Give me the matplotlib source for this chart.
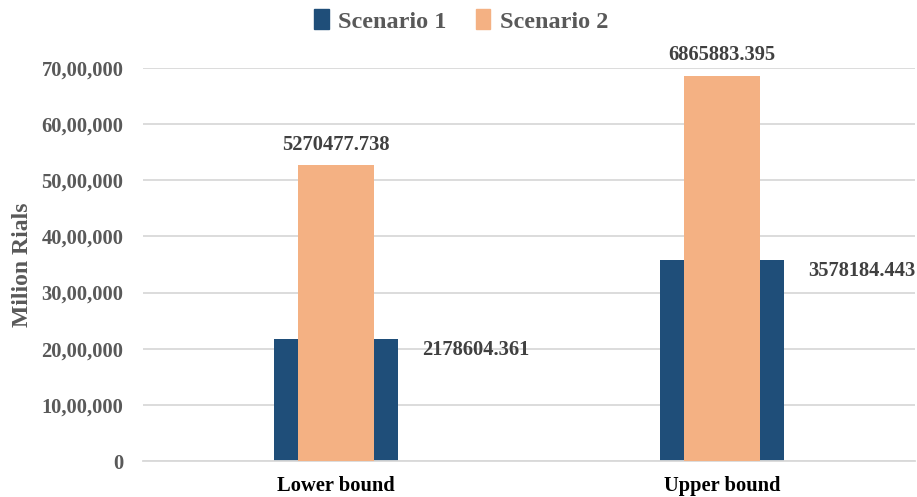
import matplotlib.pyplot as plt
from matplotlib.ticker import FuncFormatter
from matplotlib.patches import Patch

plt.rcParams['font.family'] = ['Liberation Serif', 'DejaVu Serif']
plt.rcParams['font.weight'] = 'bold'

# data
categories = ['Lower bound', 'Upper bound']
scenario_1 = [2178604.361, 3578184.443]
scenario_2 = [5270477.738, 6865883.395]
series_names = ['Scenario 1', 'Scenario 2']

blue = '#1F4E79'
orange = '#F4B183'
grey_text = '#595959'


def indian_format(v, pos):
    # 7000000 -> 70,00,000
    n = int(round(v))
    s = str(n)
    if len(s) <= 3:
        return s
    last3 = s[-3:]
    rest = s[:-3]
    parts = []
    while len(rest) > 2:
        parts.insert(0, rest[-2:])
        rest = rest[:-2]
    if rest:
        parts.insert(0, rest)
    return ','.join(parts) + ',' + last3


fig = plt.figure(figsize=(9.17, 4.97), dpi=100)
ax = fig.add_axes([0.156, 0.0724, 0.842, 0.7908])

x = list(range(len(categories)))
ax.bar(x, scenario_1, width=0.321, color=blue, zorder=2)
ax.bar(x, scenario_2, width=0.197, color=orange, zorder=3)

for i in x:
    ax.annotate(f'{scenario_1[i]:.3f}', xy=(i + 0.362, scenario_1[i]), xytext=(0, -8),
                textcoords='offset points', ha='center', va='center',
                fontsize=14.8, color='#404040', fontweight='bold')
    ax.annotate(f'{scenario_2[i]:.3f}', xy=(i, scenario_2[i]), xytext=(0, 14.5),
                textcoords='offset points', ha='center', va='center',
                fontsize=14.8, color='#404040', fontweight='bold')

ax.set_xlim(-0.5, 1.5)
ax.set_ylim(0, 7000000)
ax.set_yticks(range(0, 7000001, 1000000))
ax.yaxis.set_major_formatter(FuncFormatter(indian_format))
ax.set_xticks(x)
ax.set_xticklabels(categories, fontsize=14.8, fontweight='bold', color='black')
ax.tick_params(axis='y', length=0, pad=14, labelsize=14.8, labelcolor=grey_text)
ax.tick_params(axis='x', length=0, pad=11)

ax.grid(axis='y', color='#D9D9D9', linewidth=1.3, zorder=0)
ax.set_axisbelow(True)
for side in ['top', 'right', 'left']:
    ax.spines[side].set_visible(False)
ax.spines['bottom'].set_color('#D9D9D9')
ax.spines['bottom'].set_linewidth(1.3)

ax.set_ylabel('Milion Rials', fontsize=17, fontweight='bold', color=grey_text)
ax.yaxis.set_label_coords(-0.142, 0.5)

handles = [Patch(color=blue), Patch(color=orange)]
fig.legend(handles, series_names, loc='center', bbox_to_anchor=(0.503, 0.958), ncol=2,
           frameon=False, prop={'size': 17.5, 'weight': 'bold'}, labelcolor=grey_text,
           handlelength=0.6, handleheight=0.9, handletextpad=0.4, columnspacing=1.2)

fig.savefig('out.png', dpi=100)
